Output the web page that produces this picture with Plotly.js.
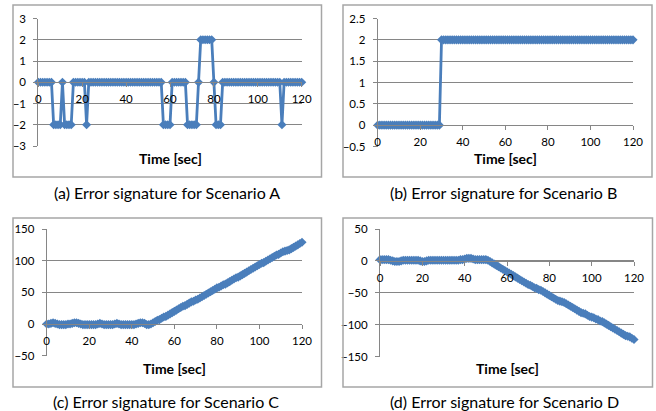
<!DOCTYPE html>
<html>
<head>
<meta charset="utf-8">
<script src="https://cdn.plot.ly/plotly-3.0.1.min.js"></script>
<style>html,body{margin:0;padding:0;background:#fff;}#chart{width:656px;height:411px;}</style>
</head>
<body>
<div id="chart"></div>
<script>
const timeSec = [0,1,2,3,4,5,6,7,8,9,10,11,12,13,14,15,16,17,18,19,20,21,22,23,24,25,26,27,28,29,30,31,32,33,34,35,36,37,38,39,40,41,42,43,44,45,46,47,48,49,50,51,52,53,54,55,56,57,58,59,60,61,62,63,64,65,66,67,68,69,70,71,72,73,74,75,76,77,78,79,80,81,82,83,84,85,86,87,88,89,90,91,92,93,94,95,96,97,98,99,100,101,102,103,104,105,106,107,108,109,110,111,112,113,114,115,116,117,118,119,120];

const errorA = [0,0,0,0,0,0,0,-2,-2,-2,-2,0,-2,-2,-2,-2,0,0,0,0,0,0,-2,0,0,0,0,0,0,0,0,0,0,0,0,0,0,0,0,0,0,0,0,0,0,0,0,0,0,0,0,0,0,0,0,0,0,-2,-2,-2,-2,0,0,0,0,0,0,0,-2,-2,-2,-2,-2,0,2,2,2,2,2,2,0,-2,-2,-2,0,0,0,0,0,0,0,0,0,0,0,0,0,0,0,0,0,0,0,0,0,0,0,0,0,0,0,-2,0,0,0,0,0,0,0,0,0];

const errorB = [0,0,0,0,0,0,0,0,0,0,0,0,0,0,0,0,0,0,0,0,0,0,0,0,0,0,0,0,0,0,2,2,2,2,2,2,2,2,2,2,2,2,2,2,2,2,2,2,2,2,2,2,2,2,2,2,2,2,2,2,2,2,2,2,2,2,2,2,2,2,2,2,2,2,2,2,2,2,2,2,2,2,2,2,2,2,2,2,2,2,2,2,2,2,2,2,2,2,2,2,2,2,2,2,2,2,2,2,2,2,2,2,2,2,2,2,2,2,2,2,2];

const errorC = [0,0,1,2,1,0,-1,-1,-1,-1,0,0,1,2,2,1,0,-1,-1,-1,-1,-1,-1,-1,0,1,0,-1,-1,-1,-1,-1,0,1,0,-1,-1,-1,-1,-1,-1,-1,0,1,2,2,1,-1,-1,0,2,4,6,7,9,11,12,14,16,18,20,22,24,26,28,29,31,33,35,36,38,39,41,43,45,47,49,51,53,55,57,58,60,62,63,65,67,69,71,73,74,76,78,80,82,84,86,88,90,92,94,96,97,99,101,103,105,107,109,110,112,114,115,116,117,119,121,123,125,127,129];

const errorD = [2,2,2,2,2,1,0,-1,-1,-1,0,1,1,1,1,1,1,1,1,0,-1,-1,0,1,1,1,1,1,1,1,1,1,1,1,1,1,1,1,2,2,3,4,4,4,3,2,2,2,2,2,2,1,-1,-3,-5,-7,-9,-11,-13,-15,-17,-19,-21,-23,-25,-27,-29,-31,-33,-35,-37,-38,-40,-42,-43,-45,-46,-48,-50,-52,-54,-56,-58,-60,-62,-63,-64,-65,-67,-69,-71,-73,-75,-77,-79,-81,-82,-83,-85,-87,-88,-89,-91,-92,-94,-95,-97,-99,-101,-103,-105,-107,-109,-111,-113,-115,-117,-118,-119,-121,-123,-125];

const xTicks = [0,20,40,60,80,100,120];
const captions = ["(a) Error signature for Scenario A","(b) Error signature for Scenario B","(c) Error signature for Scenario C","(d) Error signature for Scenario D"];
const series = [errorA, errorB, errorC, errorD];
const yRanges = [[-3,3],[-0.5,2.5],[-50,150],[-150,50]];
const yDticks = [1,0.5,50,50];

const W = 656, H = 411;
const plotPx = [
  {x0:38.3, x1:301.7, y0:18.5, y1:146},
  {x0:377.7, x1:633, y0:18.5, y1:146.5},
  {x0:46.7, x1:302, y0:229, y1:355.7},
  {x0:380, x1:634, y0:229, y1:356.7}
];
const boxPx = [
  {x0:13, x1:321.5, y0:5, y1:177},
  {x0:343, x1:652, y0:5, y1:177},
  {x0:13, x1:321.5, y0:218, y1:387},
  {x0:343, x1:652.5, y0:218, y1:387}
];
const titlePx = [{x:170,y:158},{x:505,y:158},{x:174,y:368},{x:507,y:368.5}];
const capPx = [{x:167,y:192},{x:503,y:192},{x:166,y:401.5},{x:504,y:401}];

const grid = '#868686';
const blue = '#4A7EBB';
const tickFont = {family:'Lato, Liberation Sans, sans-serif', size:11.5, color:'#000'};

const px2x = p => p / W;
const px2y = p => 1 - p / H;

const data = [];
const layout = {
  width: W, height: H,
  margin: {l:0, r:0, t:0, b:0},
  paper_bgcolor: '#fff', plot_bgcolor: '#fff',
  showlegend: false,
  shapes: [], annotations: []
};

series.forEach((ys, i) => {
  const n = i === 0 ? '' : String(i + 1);
  data.push({
    x: timeSec, y: ys, xaxis: 'x' + n, yaxis: 'y' + n,
    type: 'scatter', mode: 'lines+markers',
    line: {color: blue, width: 2.8},
    marker: {symbol: 'diamond', size: 7, color: blue},
    cliponaxis: false
  });
  const p = plotPx[i];
  const yd = [px2y(p.y1), px2y(p.y0)];
  const r = yRanges[i];
  const zeroPos = yd[0] + (0 - r[0]) / (r[1] - r[0]) * (yd[1] - yd[0]);
  layout['xaxis' + n] = {
    domain: [px2x(p.x0), px2x(p.x1)],
    range: [0, 120], tickmode: 'array', tickvals: xTicks,
    anchor: 'free', position: zeroPos,
    showline: true, linecolor: grid, linewidth: 1,
    ticks: 'outside', ticklen: 4, tickcolor: grid,
    ticklabelstandoff: 2,
    showgrid: false, zeroline: false, tickfont: tickFont, fixedrange: true
  };
  layout['yaxis' + n] = {
    domain: yd, range: r, dtick: yDticks[i], tick0: 0,
    anchor: 'x' + n,
    showline: true, linecolor: grid, linewidth: 1,
    ticks: 'outside', ticklen: 4, tickcolor: grid,
    ticklabelstandoff: 5,
    showgrid: true, gridcolor: grid, gridwidth: 1,
    zeroline: false, tickfont: tickFont, fixedrange: true
  };
  const b = boxPx[i];
  layout.shapes.push({type:'rect', xref:'paper', yref:'paper',
    x0: px2x(b.x0), x1: px2x(b.x1), y0: px2y(b.y1), y1: px2y(b.y0),
    line: {color:'#A6A6A6', width:1.5}});
  layout.annotations.push({xref:'paper', yref:'paper', x: px2x(titlePx[i].x), y: px2y(titlePx[i].y),
    text: '<b>Time [sec]</b>', showarrow:false, xanchor:'center', yanchor:'middle',
    font: {family:'Lato, Liberation Sans, sans-serif', size:14, color:'#000'}});
  layout.annotations.push({xref:'paper', yref:'paper', x: px2x(capPx[i].x), y: px2y(capPx[i].y),
    text: captions[i], showarrow:false, xanchor:'center', yanchor:'middle',
    font: {family:'Lato, Open Sans, sans-serif', size:16, color:'#000'}});
});

Plotly.newPlot('chart', data, layout, {staticPlot: true, displayModeBar: false});
</script>
</body>
</html>
